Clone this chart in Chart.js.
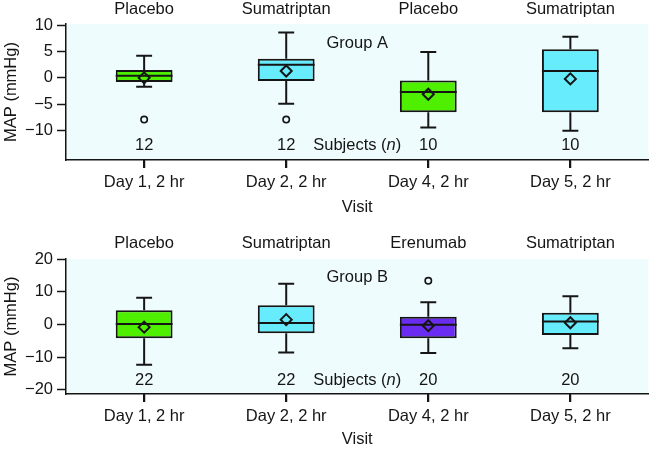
<!DOCTYPE html>
<html>
<head>
<meta charset="utf-8">
<script src="https://cdn.jsdelivr.net/npm/chart.js@4.4.1/dist/chart.umd.min.js"></script>
<style>
  body { margin: 0; background: #fff; }
  canvas { position: absolute; left: 0; }
</style>
</head>
<body>
<canvas id="chartA" width="656" height="225" style="top:0"></canvas>
<canvas id="chartB" width="656" height="224" style="top:225px"></canvas>
<script>
// categories
const visits = ['Day 1, 2 hr', 'Day 2, 2 hr', 'Day 4, 2 hr', 'Day 5, 2 hr'];
const treatA = ['Placebo', 'Sumatriptan', 'Placebo', 'Sumatriptan'];
const treatB = ['Placebo', 'Sumatriptan', 'Erenumab', 'Sumatriptan'];

// Group A box stats (mmHg)
const lowA  = [-1.7, -4.9, -9.4, -10.0];
const q1A   = [-0.8, -0.6, -6.5, -6.5];
const medA  = [0.4, 2.5, -2.7, 1.3];
const q3A   = [1.5, 3.6, -0.5, 5.4];
const highA = [4.2, 8.6, 4.9, 7.8];
const meanA = [0.0, 1.3, -3.1, -0.2];
const outA  = [[-7.9], [-7.9], [], []];
const nA    = [12, 12, 10, 10];

// Group B box stats (mmHg)
const lowB  = [-12.3, -8.6, -8.7, -7.3];
const q1B   = [-4.2, -2.7, -4.2, -3.2];
const medB  = [0.15, 0.5, -0.05, 0.9];
const q3B   = [4.4, 5.9, 2.4, 3.6];
const highB = [8.2, 12.5, 6.8, 8.7];
const meanB = [-0.8, 1.5, -0.35, 0.55];
const outB  = [[], [], [13.4], []];
const nB    = [22, 22, 20, 20];

// tick labels
const yTicksA = [-10, -5, 0, 5, 10];
const yTicksB = [-20, -10, 0, 10, 20];

const GREEN = '#4ef000', CYAN = '#66ecfc', PURPLE = '#6a2cf0';
const colorsA = [GREEN, CYAN, GREEN, CYAN];
const colorsB = [GREEN, CYAN, PURPLE, CYAN];
const plotBg = '#effcfd';
const ink = '#151515';
const FONT = '"Liberation Sans", Arial, Helvetica, sans-serif';
const FS = 16.5;

const labelPlugin = {
  id: 'labels',
  beforeDraw(chart) {
    const {ctx, chartArea: a} = chart;
    ctx.save();
    ctx.fillStyle = plotBg;
    ctx.fillRect(a.left, a.top, a.right - a.left, a.bottom - a.top);
    ctx.restore();
  },
  afterDraw(chart, args, o) {
    const {ctx, chartArea: a} = chart;
    const x = chart.scales.x, y = chart.scales.y;
    const f = FS + 'px ' + FONT, fi = 'italic ' + FS + 'px ' + FONT;
    ctx.save();
    ctx.fillStyle = ink;
    ctx.font = f;
    ctx.textAlign = 'center';
    ctx.textBaseline = 'middle';
    o.treat.forEach((t, i) => ctx.fillText(t, x.getPixelForValue(i + 1), a.top - o.topGap));
    o.n.forEach((v, i) => ctx.fillText(String(v), x.getPixelForValue(i + 1), y.getPixelForValue(o.nY)));
    ctx.fillText(o.group, x.getPixelForValue(2.5), y.getPixelForValue(o.groupY));

    // "Subjects (n)" with italic n
    const cx = x.getPixelForValue(2.5), cy = y.getPixelForValue(o.nY);
    const w1 = ctx.measureText('Subjects (').width, w3 = ctx.measureText(')').width;
    ctx.font = fi; const w2 = ctx.measureText('n').width;
    let sx = cx - (w1 + w2 + w3) / 2;
    ctx.textAlign = 'left';
    ctx.font = f; ctx.fillText('Subjects (', sx, cy);
    ctx.font = fi; ctx.fillText('n', sx + w1, cy);
    ctx.font = f; ctx.fillText(')', sx + w1 + w2, cy);

    // tick marks under each visit
    ctx.strokeStyle = ink;
    ctx.lineWidth = 2;
    visits.forEach((v, i) => {
      const px = Math.round(x.getPixelForValue(i + 1));
      ctx.beginPath();
      ctx.moveTo(px, a.bottom);
      ctx.lineTo(px, a.bottom + 8);
      ctx.stroke();
    });
    ctx.restore();
  }
};

function makeChart(id, g) {
  const half = 0.2, cap = 0.056;
  const boxes = [], lines = [], means = [], outs = [];
  g.q1.forEach((v, i) => {
    const c = i + 1;
    boxes.push({x: c, y: [g.q1[i], g.q3[i]]});
    lines.push({x: c, y: g.q3[i]}, {x: c, y: g.high[i]}, {x: c, y: null});
    lines.push({x: c - cap, y: g.high[i]}, {x: c + cap, y: g.high[i]}, {x: c, y: null});
    lines.push({x: c, y: g.q1[i]}, {x: c, y: g.low[i]}, {x: c, y: null});
    lines.push({x: c - cap, y: g.low[i]}, {x: c + cap, y: g.low[i]}, {x: c, y: null});
    lines.push({x: c - half, y: g.med[i]}, {x: c + half, y: g.med[i]}, {x: c, y: null});
    means.push({x: c, y: g.mean[i]});
    g.out[i].forEach(o => outs.push({x: c, y: o}));
  });

  return new Chart(document.getElementById(id), {
    type: 'bar',
    data: {
      datasets: [
        {
          type: 'line', data: means, order: 0,
          showLine: false, pointStyle: 'rectRot', pointRadius: 5.5,
          pointBorderWidth: 2, pointBorderColor: ink, pointBackgroundColor: 'rgba(0,0,0,0)'
        },
        {
          type: 'line', data: outs, order: 0,
          showLine: false, pointStyle: 'circle', pointRadius: 3.2,
          pointBorderWidth: 1.6, pointBorderColor: ink, pointBackgroundColor: plotBg
        },
        {
          type: 'line', data: lines, order: 1,
          borderColor: ink, borderWidth: 2, pointRadius: 0, spanGaps: false, tension: 0
        },
        {
          type: 'bar', data: boxes, order: 2, grouped: false,
          backgroundColor: g.colors, borderColor: ink, borderWidth: 2, borderSkipped: false,
          categoryPercentage: 1, barPercentage: 0.4
        }
      ]
    },
    options: {
      responsive: false,
      animation: false,
      layout: {padding: {top: g.padTop, left: 0, right: 0, bottom: 0}},
      plugins: {
        legend: {display: false},
        tooltip: {enabled: false},
        labels: {treat: g.treat, n: g.n, group: g.group, groupY: g.groupY, nY: g.nY, topGap: g.topGap}
      },
      scales: {
        x: {
          type: 'linear', min: 0.45, max: 4.55, offset: false,
          afterBuildTicks: s => { s.ticks = visits.map((v, i) => ({value: i + 1})); },
          afterFit: s => { s.height = g.xHeight; },
          ticks: {
            color: ink, padding: 5, maxRotation: 0, autoSkip: false,
            font: {family: FONT, size: FS},
            callback: v => visits[v - 1]
          },
          grid: {offset: false, drawOnChartArea: false, drawTicks: true, tickLength: 8, tickColor: ink, tickWidth: 1.5},
          border: {display: true, color: ink, width: 1.5},
          title: {display: true, text: 'Visit', color: ink, font: {family: FONT, size: FS}, padding: {top: 0, bottom: g.titleBottom}}
        },
        y: {
          min: g.ymin, max: g.ymax,
          afterBuildTicks: s => { s.ticks = g.yTicks.map(v => ({value: v})); },
          afterFit: s => { s.width = 66; },
          ticks: {
            color: ink, padding: 4,
            font: {family: FONT, size: FS},
            callback: v => String(v).replace('-', '\u2212')
          },
          grid: {drawOnChartArea: false, drawTicks: true, tickLength: 9, tickColor: ink, tickWidth: 1.5},
          border: {display: true, color: ink, width: 1.5},
          title: {display: true, text: 'MAP (mmHg)', color: ink, font: {family: FONT, size: FS}, padding: {top: 1.5, bottom: 0}}
        }
      }
    },
    plugins: [labelPlugin]
  });
}

makeChart('chartA', {
  q1: q1A, med: medA, q3: q3A, low: lowA, high: highA, mean: meanA, out: outA,
  n: nA, treat: treatA, colors: colorsA, yTicks: yTicksA, group: 'Group A',
  ymin: -15.55, ymax: 10.19, groupY: 6.6, nY: -12.8,
  padTop: 24, xHeight: 65, titleBottom: 8, topGap: 15
});

makeChart('chartB', {
  q1: q1B, med: medB, q3: q3B, low: lowB, high: highB, mean: meanB, out: outB,
  n: nB, treat: treatB, colors: colorsB, yTicks: yTicksB, group: 'Group B',
  ymin: -21.3, ymax: 20.1, groupY: 14.3, nY: -17.0,
  padTop: 34, xHeight: 55, titleBottom: 0, topGap: 15.7
});
</script>
</body>
</html>
